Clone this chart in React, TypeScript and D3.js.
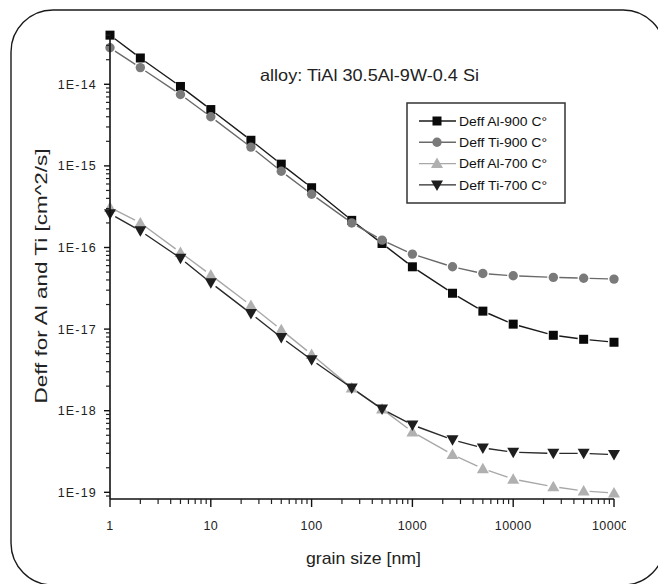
import React from "react";
import * as d3 from "d3";

const grainSizes = [1, 2, 5, 10, 25, 50, 100, 250, 500, 1000, 2500, 5000, 10000, 25000, 50000, 100000];
const deffAl900 = [4.0e-14, 2.1e-14, 9.4e-15, 4.9e-15, 2.06e-15, 1.05e-15, 5.4e-16, 2.15e-16, 1.12e-16, 5.8e-17, 2.75e-17, 1.66e-17, 1.15e-17, 8.4e-18, 7.5e-18, 6.9e-18];
const deffTi900 = [2.8e-14, 1.6e-14, 7.5e-15, 4.0e-15, 1.7e-15, 8.6e-16, 4.5e-16, 2.0e-16, 1.23e-16, 8.3e-17, 5.8e-17, 4.8e-17, 4.5e-17, 4.3e-17, 4.2e-17, 4.1e-17];
const deffAl700 = [3.1e-16, 2.0e-16, 8.7e-17, 4.6e-17, 1.95e-17, 9.8e-18, 4.9e-18, 1.9e-18, 1.05e-18, 5.5e-19, 2.9e-19, 1.95e-19, 1.45e-19, 1.17e-19, 1.04e-19, 9.8e-20];
const deffTi700 = [2.6e-16, 1.6e-16, 7.4e-17, 3.7e-17, 1.55e-17, 7.9e-18, 4.2e-18, 1.9e-18, 1.05e-18, 6.7e-19, 4.4e-19, 3.5e-19, 3.1e-19, 3.0e-19, 3.0e-19, 2.9e-19];

const seriesNames = ["Deff Al-900 C°", "Deff Ti-900 C°", "Deff Al-700 C°", "Deff Ti-700 C°"];
const xTickValues = [1, 10, 100, 1000, 10000, 100000];
const xTickLabels = ["1", "10", "100", "1000", "10000", "100000"];
const yTickValues = [1e-19, 1e-18, 1e-17, 1e-16, 1e-15, 1e-14];
const yTickLabels = ["1E-19", "1E-18", "1E-17", "1E-16", "1E-15", "1E-14"];
const titleText = "alloy: TiAl 30.5Al-9W-0.4 Si";
const xTitle = "grain size [nm]";
const yTitle = "Deff for Al and Ti [cm^2/s]";

type Sym = "square" | "circle" | "up" | "down";
const series: { name: string; values: number[]; sym: Sym; fill: string; line: string }[] = [
  { name: seriesNames[0], values: deffAl900, sym: "square", fill: "#0a0a0a", line: "#1a1a1a" },
  { name: seriesNames[1], values: deffTi900, sym: "circle", fill: "#7a7a7a", line: "#6a6a6a" },
  { name: seriesNames[2], values: deffAl700, sym: "up", fill: "#b0b0b0", line: "#a8a8a8" },
  { name: seriesNames[3], values: deffTi700, sym: "down", fill: "#1e1e1e", line: "#2a2a2a" },
];

const FONT = "'Liberation Sans', Arial, sans-serif";

function Marker({ sym, x, y, fill }: { sym: Sym; x: number; y: number; fill: string }) {
  if (sym === "square") return <rect x={x - 4.5} y={y - 4.5} width={9} height={9} fill={fill} />;
  if (sym === "circle") return <circle cx={x} cy={y} r={4.7} fill={fill} />;
  if (sym === "up")
    return <path d={`M${x},${y - 6}L${x + 6},${y + 4.5}L${x - 6},${y + 4.5}Z`} fill={fill} />;
  return <path d={`M${x},${y + 6}L${x + 6},${y - 4.5}L${x - 6},${y - 4.5}Z`} fill={fill} />;
}

export default function App() {
  const W = 658;
  const H = 584;
  const x = d3.scaleLog().domain([1, 100000]).range([110, 614]);
  const y = d3.scaleLog().domain([8.28e-20, 4.25e-14]).range([499, 33]);

  const xMinor: number[] = [];
  for (let d = 1; d < 100000; d *= 10) for (let k = 2; k <= 9; k++) xMinor.push(d * k);
  const yMinor: number[] = [];
  for (let e = -20; e <= -14; e++)
    for (let k = 2; k <= 9; k++) {
      const v = k * Math.pow(10, e);
      if (v >= 8.28e-20 && v <= 4.25e-14) yMinor.push(v);
    }

  const gap = 6;
  const segs = (vals: number[]) => {
    const pts = grainSizes.map((g, i) => [x(g), y(vals[i])]);
    const out: string[] = [];
    for (let i = 0; i < pts.length - 1; i++) {
      const [x0, y0] = pts[i];
      const [x1, y1] = pts[i + 1];
      const len = Math.hypot(x1 - x0, y1 - y0);
      if (len <= 2 * gap) continue;
      const ux = (x1 - x0) / len;
      const uy = (y1 - y0) / len;
      out.push(`M${x0 + ux * gap},${y0 + uy * gap}L${x1 - ux * gap},${y1 - uy * gap}`);
    }
    return out.join("");
  };

  return (
    <svg
      width={W}
      height={H}
      style={{ position: "absolute", left: 0, top: 0, background: "#fff" }}
      fontFamily={FONT}
    >
      <defs>
        <clipPath id="lastLabel">
          <rect x={0} y={0} width={626} height={H} />
        </clipPath>
      </defs>
      <rect x={0} y={0} width={W} height={H} fill="#fff" />
      <rect x={11} y={10} width={654} height={575} rx={42} ry={42} fill="none" stroke="#1a1a1a" strokeWidth={1.4} />

      {series.map((s) => (
        <path key={s.name + "l"} d={segs(s.values)} fill="none" stroke={s.line} strokeWidth={1.4} />
      ))}
      {series.map((s) => (
        <g key={s.name + "m"}>
          {grainSizes.map((g, i) => (
            <Marker key={i} sym={s.sym} x={x(g)} y={y(s.values[i])} fill={s.fill} />
          ))}
        </g>
      ))}

      <line x1={110} x2={110} y1={y.range()[1]} y2={y.range()[0]} stroke="#111" strokeWidth={1.6} />
      <line x1={110} x2={614} y1={499} y2={499} stroke="#111" strokeWidth={1.6} />
      {yMinor.map((v, i) => (
        <line key={"ym" + i} x1={106} x2={110} y1={y(v)} y2={y(v)} stroke="#222" strokeWidth={1.2} />
      ))}
      {yTickValues.map((v, i) => (
        <g key={"yt" + i}>
          <line x1={104} x2={110} y1={y(v)} y2={y(v)} stroke="#111" strokeWidth={1.4} />
          <text x={97} y={y(v)} dy="0.36em" textAnchor="end" fontSize={12.5} letterSpacing={1.2} fill="#222">
            {yTickLabels[i]}
          </text>
        </g>
      ))}
      {xMinor.map((v, i) => (
        <line key={"xm" + i} x1={x(v)} x2={x(v)} y1={499} y2={504} stroke="#222" strokeWidth={1.2} />
      ))}
      {xTickValues.map((v, i) => (
        <g key={"xt" + i}>
          <line x1={x(v)} x2={x(v)} y1={499} y2={507} stroke="#111" strokeWidth={1.4} />
          <text
            x={x(v)}
            y={530}
            textAnchor="middle"
            fontSize={12.5}
            letterSpacing={0.4}
            fill="#222"
            clipPath={i === xTickValues.length - 1 ? "url(#lastLabel)" : undefined}
          >
            {xTickLabels[i]}
          </text>
        </g>
      ))}

      <text x={369.5} y={81} textAnchor="middle" fontSize={16.5} textLength={219} lengthAdjust="spacingAndGlyphs" fill="#222">
        {titleText}
      </text>
      <text x={363.5} y={564} textAnchor="middle" fontSize={17} textLength={115} lengthAdjust="spacingAndGlyphs" fill="#222">
        {xTitle}
      </text>
      <text
        transform={`translate(47,${276}) rotate(-90)`}
        textAnchor="middle"
        fontSize={17}
        textLength={255}
        lengthAdjust="spacingAndGlyphs"
        fill="#222"
      >
        {yTitle}
      </text>

      <rect x={407} y={103} width={158} height={100} fill="#fff" stroke="#333" strokeWidth={1.5} />
      {series.map((s, i) => {
        const ly = 121 + i * 21.3;
        return (
          <g key={s.name + "leg"}>
            <line x1={419} x2={456} y1={ly} y2={ly} stroke={s.line} strokeWidth={1.4} />
            <Marker sym={s.sym} x={437} y={ly} fill={s.fill} />
            <text x={459} y={ly} dy="0.36em" fontSize={13.5} textLength={88} lengthAdjust="spacingAndGlyphs" fill="#111">
              {s.name}
            </text>
          </g>
        );
      })}
    </svg>
  );
}
